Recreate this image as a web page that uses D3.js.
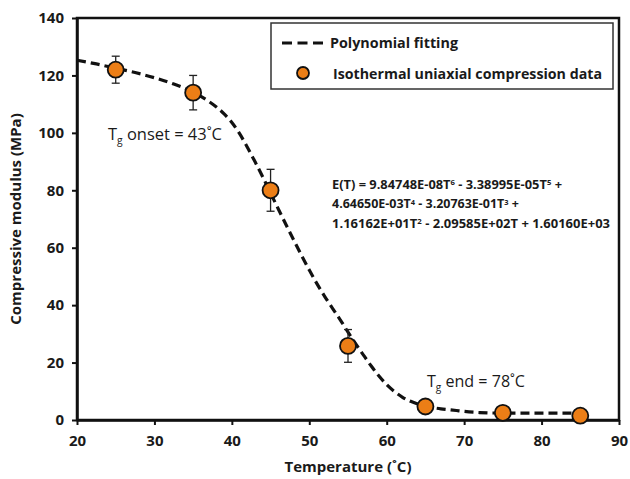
<!DOCTYPE html>
<html><head><meta charset="utf-8">
<script src="https://cdn.jsdelivr.net/npm/d3@7/dist/d3.min.js"></script>
<style>body{margin:0;background:#fff}svg{display:block}text{font-family:"Open Sans",Arial,sans-serif}</style>
</head><body><svg id="c" width="630" height="479"></svg>
<script>
const temps = [25, 35, 45, 55, 65, 75, 85];
const modulus = [122.0, 114.0, 80.0, 25.8, 4.7, 2.5, 1.5];
const errors = [4.7, 6.0, 7.3, 5.7, 1.0, 0.6, 0.5];
const fitT = [20, 22.5, 25, 27.5, 30, 32.5, 35, 36, 37, 38, 39, 40, 41, 42, 43, 44, 45, 46, 47, 48, 49, 50, 51, 52, 53, 54, 55, 56, 57, 58, 59, 60, 61, 62, 63, 64, 65, 66, 67, 68, 69, 70, 72, 75, 80, 85];
const fitE = [125.3, 124.0, 122.5, 121.0, 119.2, 117.0, 114.2, 112.7, 111.0, 109.0, 106.6, 103.6, 99.7, 95.0, 89.9, 84.6, 79.0, 73.5, 68.0, 62.6, 57.3, 52.2, 47.4, 43.0, 38.9, 34.9, 30.6, 26.5, 22.6, 18.8, 15.3, 12.3, 9.9, 8.0, 6.6, 5.6, 4.8, 4.3, 3.9, 3.6, 3.3, 3.0, 2.6, 2.4, 2.4, 2.4];
const xTicks = [20, 30, 40, 50, 60, 70, 80, 90];
const yTicks = [0, 20, 40, 60, 80, 100, 120, 140];

const svg = d3.select("#c");
const L = 77, R = 619, T = 18, B = 420;
const x = d3.scaleLinear().domain([20, 90]).range([L, R]);
const y = d3.scaleLinear().domain([0, 140]).range([B, T]);

// frame
svg.append("rect").attr("x", L).attr("y", T).attr("width", R - L).attr("height", B - T)
  .attr("fill", "none").attr("stroke", "#111").attr("stroke-width", 2.5);

const xa = svg.append("g").attr("transform", `translate(0,${B})`)
  .call(d3.axisBottom(x).tickValues(xTicks).tickSize(5).tickPadding(10).tickSizeOuter(0));
const ya = svg.append("g").attr("transform", `translate(${L},0)`)
  .call(d3.axisLeft(y).tickValues(yTicks).tickSize(5).tickPadding(8).tickSizeOuter(0));
[xa, ya].forEach(a => {
  a.select(".domain").attr("stroke", "#111").attr("stroke-width", 2.5);
  a.selectAll(".tick line").attr("stroke", "#111").attr("stroke-width", 2);
  a.selectAll(".tick text").attr("fill", "#1a1a1a").style("font-size", "15px").style("font-weight", "bold");
});

// axis titles
svg.append("text").attr("x", (L + R) / 2).attr("y", 472).attr("text-anchor", "middle")
  .style("font-size", "15px").style("font-weight", "bold").attr("fill", "#1a1a1a")
  .text("Temperature (˚C)");
svg.append("text").attr("transform", `translate(21,${(T + B) / 2}) rotate(-90)`).attr("text-anchor", "middle")
  .style("font-size", "15px").style("font-weight", "bold").attr("fill", "#1a1a1a")
  .text("Compressive modulus (MPa)");

// fit curve
const line = d3.line().x((d, i) => x(fitT[i])).y(d => y(d)).curve(d3.curveMonotoneX);
svg.append("path").attr("d", line(fitE)).attr("fill", "none").attr("stroke", "#111")
  .attr("stroke-width", 3.2).attr("stroke-dasharray", "9,5");

// error bars
const eb = svg.append("g").attr("stroke", "#222").attr("stroke-width", 1.3);
temps.forEach((t, i) => {
  const cx = x(t), y1 = y(modulus[i] + errors[i]), y2 = y(modulus[i] - errors[i]);
  eb.append("line").attr("x1", cx).attr("x2", cx).attr("y1", y1).attr("y2", y2);
  eb.append("line").attr("x1", cx - 4).attr("x2", cx + 4).attr("y1", y1).attr("y2", y1);
  eb.append("line").attr("x1", cx - 4).attr("x2", cx + 4).attr("y1", y2).attr("y2", y2);
});
svg.append("g").selectAll("circle").data(modulus).join("circle")
  .attr("cx", (d, i) => x(temps[i])).attr("cy", d => y(d)).attr("r", 8)
  .attr("fill", "#EC7E16").attr("stroke", "#111").attr("stroke-width", 1.8);

// legend
svg.append("rect").attr("x", 271).attr("y", 23).attr("width", 342).attr("height", 66)
  .attr("fill", "#fff").attr("stroke", "#333").attr("stroke-width", 1.5);
svg.append("line").attr("x1", 282).attr("x2", 323).attr("y1", 43).attr("y2", 43)
  .attr("stroke", "#111").attr("stroke-width", 3.2).attr("stroke-dasharray", "10,5.5");
svg.append("circle").attr("cx", 303).attr("cy", 73).attr("r", 6)
  .attr("fill", "#EC7E16").attr("stroke", "#111").attr("stroke-width", 1.8);
function fit(sel, w) { sel.attr("textLength", w).attr("lengthAdjust", "spacingAndGlyphs"); return sel; }
fit(svg.append("text").attr("x", 330).attr("y", 48).style("font-size", "14px").style("font-weight", "bold").attr("fill", "#1a1a1a")
  .text("Polynomial fitting"), 128);
fit(svg.append("text").attr("x", 333).attr("y", 79).style("font-size", "14px").style("font-weight", "bold").attr("fill", "#1a1a1a")
  .text("Isothermal uniaxial compression data"), 269);

// annotations
function tg(xp, yp, rest, w) {
  const t = svg.append("text").attr("x", xp).attr("y", yp).style("font-size", "16px").attr("fill", "#1a1a1a");
  t.append("tspan").text("T");
  t.append("tspan").attr("dy", 4).style("font-size", "10px").text("g");
  t.append("tspan").attr("dy", -4).text(rest);
  fit(t, w);
}
tg(108, 140, " onset = 43˚C", 114);
tg(427, 387, " end = 78˚C", 98);

const eq = [
  [["E(T) = 9.84748E-08T", ""], ["6", "sup"], [" - 3.38995E-05T", ""], ["5", "sup"], [" +", ""]],
  [["4.64650E-03T", ""], ["4", "sup"], [" - 3.20763E-01T", ""], ["3", "sup"], [" +", ""]],
  [["1.16162E+01T", ""], ["2", "sup"], [" - 2.09585E+02T + 1.60160E+03", ""]]
];
const eqW = [230, 187, 278];
eq.forEach((parts, i) => {
  const t = svg.append("text").attr("x", 332).attr("y", 185 + i * 19.5)
    .style("font-size", "12.5px").style("font-weight", "bold").attr("fill", "#1a1a1a");
  parts.forEach(p => {
    if (p[1] === "sup") t.append("tspan").attr("dy", -3.5).style("font-size", "7.5px").text(p[0]);
    else t.append("tspan").attr("dy", t.selectAll("tspan").size() ? 3.5 : 0).text(p[0]);
  });
  fit(t, eqW[i]);
});
</script></body></html>
